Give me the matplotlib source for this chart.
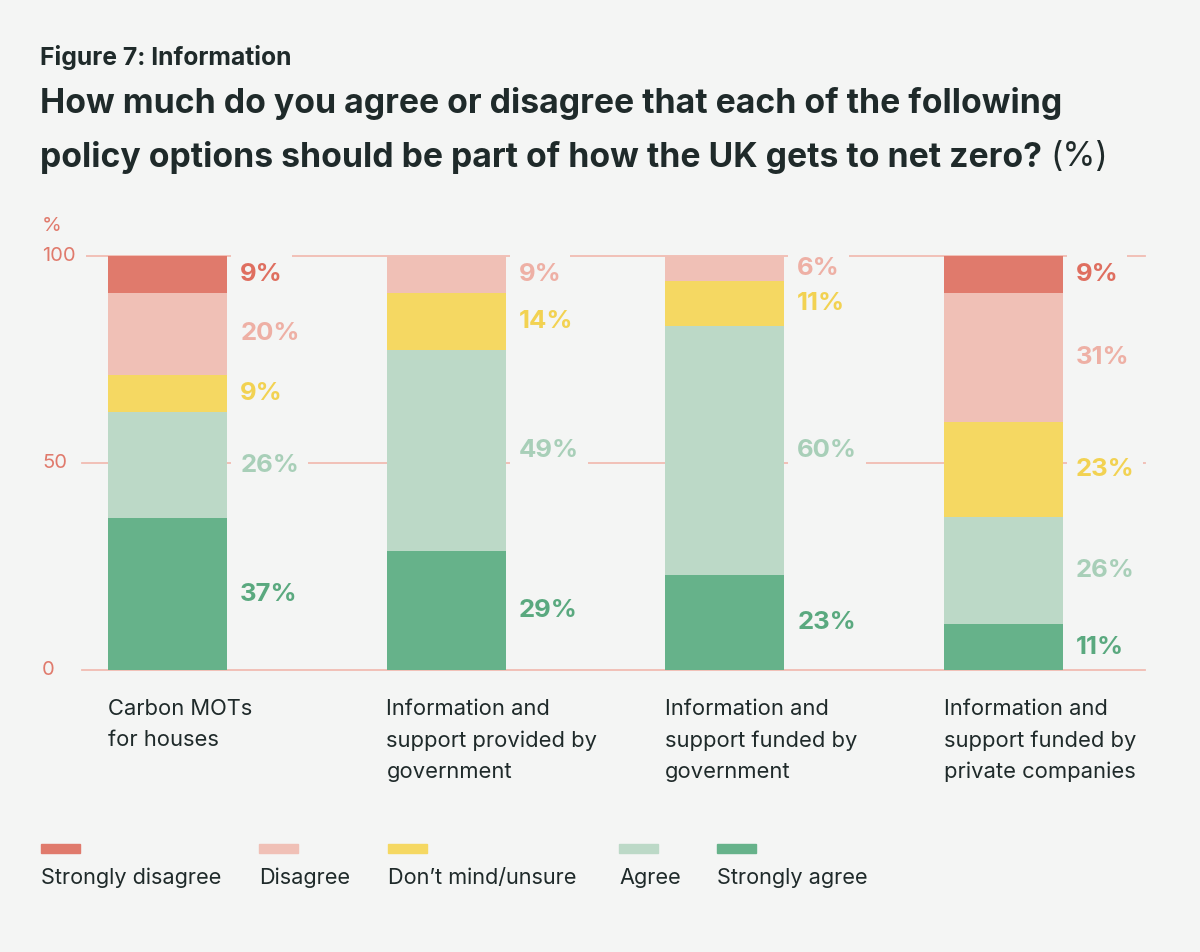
#!/usr/bin/env python3
"""
Figure 7: Information - stacked bar chart
"""

import numpy as np
import matplotlib
matplotlib.use('Agg')
import matplotlib.pyplot as plt
import matplotlib.transforms as mtransforms

plt.rcParams['font.family'] = ['Inter', 'DejaVu Sans']

BG = '#f4f5f4'
DARK = '#1f2a2a'
AXIS_COL = '#e07a6c'
GRID_COL = '#f1bcb2'

categories = [
    'Carbon MOTs\nfor houses',
    'Information and\nsupport provided by\ngovernment',
    'Information and\nsupport funded by\ngovernment',
    'Information and\nsupport funded by\nprivate companies',
]
responses = ['Strongly agree', 'Agree', 'Don\u2019t mind/unsure', 'Disagree', 'Strongly disagree']
strongly_agree = [37, 29, 23, 11]
agree = [26, 49, 60, 26]
dont_mind = [9, 14, 11, 23]
disagree = [20, 9, 6, 31]
strongly_disagree = [9, 0, 0, 9]
y_ticks = [0, 50, 100]

fill_colors = ['#66b28a', '#bcd9c7', '#f5d862', '#f0c0b6', '#e07a6c']
text_colors = ['#5aa97f', '#a8cfb8', '#f2d252', '#eeb0a5', '#df6f60']

series = [strongly_agree, agree, dont_mind, disagree, strongly_disagree]

W, H = 1200, 952
fig = plt.figure(figsize=(W / 100, H / 100), dpi=100, facecolor=BG)

# axes placed in pixel terms
ax_l, ax_r, ax_top, ax_bot = 82, 1145, 256, 670
ax = fig.add_axes([ax_l / W, (H - ax_bot) / H, (ax_r - ax_l) / W, (ax_bot - ax_top) / H])
ax.set_facecolor(BG)

step = 278.5
bar_w = 119 / step
x0 = 167.5
xs = np.arange(len(categories))
ax.set_xlim((ax_l - x0) / step, (ax_r - x0) / step)
ax.set_ylim(0, 100)

for v in y_ticks:
    ax.axhline(v, color=GRID_COL, lw=1.3, zorder=0, clip_on=False)

data = np.array(series, dtype=float)
totals = data.sum(axis=0)
scaled = data * 100 / totals
bottom = np.zeros(len(categories))
for k, vals in enumerate(scaled):
    ax.bar(xs, vals, bottom=bottom, width=bar_w, color=fill_colors[k],
           align='center', zorder=2, linewidth=0)
    for i in range(len(categories)):
        if data[k][i] > 0:
            ax.annotate(f'{int(data[k][i])}%',
                        xy=(xs[i] + bar_w / 2, bottom[i] + vals[i] / 2),
                        xytext=(9.5, 0), textcoords='offset points',
                        ha='left', va='center', fontsize=18.5, fontweight='bold',
                        color=text_colors[k], zorder=3,
                        bbox=dict(boxstyle='square,pad=0.35', fc=BG, ec='none'))
    bottom += vals

for s in ax.spines.values():
    s.set_visible(False)
ax.set_xticks([])
ax.set_yticks([])

# y labels
trans = mtransforms.blended_transform_factory(fig.transFigure, ax.transData)
for v in y_ticks:
    ax.text(42 / W, v, str(v), transform=trans, ha='left', va='center',
            fontsize=14.5, color=AXIS_COL, zorder=4,
            bbox=dict(boxstyle='square,pad=0.5', fc=BG, ec='none'))
fig.text(42 / W, 1 - 226 / H, '%', ha='left', va='center', fontsize=14.5, color=AXIS_COL)

# category labels
for i, lab in enumerate(categories):
    fig.text((x0 + step * i - 119 / 2) / W, 1 - 699 / H, lab, ha='left', va='top',
             fontsize=15.8, color=DARK, linespacing=1.68)

# titles
fig.text(40 / W, 1 - 58 / H, 'Figure 7: Information', ha='left', va='center',
         fontsize=17.8, fontweight='bold', color=DARK)
fig.text(40 / W, 1 - 104 / H, 'How much do you agree or disagree that each of the following',
         ha='left', va='center', fontsize=24.3, fontweight='bold', color=DARK)
t = fig.text(40 / W, 1 - 157 / H, 'policy options should be part of how the UK gets to net zero?',
             ha='left', va='center', fontsize=24.3, fontweight='bold', color=DARK)
fig.canvas.draw()
bb = t.get_window_extent()
fig.text((bb.x1 + 8) / W, 1 - 157 / H, '(%)', ha='left', va='center',
         fontsize=24.3, color=DARK)

# legend
legend_order = ['Strongly disagree', 'Disagree', 'Don\u2019t mind/unsure', 'Agree', 'Strongly agree']
legend_cols = [fill_colors[4], fill_colors[3], fill_colors[2], fill_colors[1], fill_colors[0]]
legend_x = [41, 259, 388, 619, 717]
for lx, lab, c in zip(legend_x, legend_order, legend_cols):
    fig.patches.append(plt.Rectangle((lx / W, 1 - 853 / H), 39 / W, 9 / H,
                                     transform=fig.transFigure, color=c))
    fig.text(lx / W, 1 - 878 / H, lab, ha='left', va='center', fontsize=15.6, color=DARK)

fig.savefig('out.png', dpi=100, facecolor=BG)
